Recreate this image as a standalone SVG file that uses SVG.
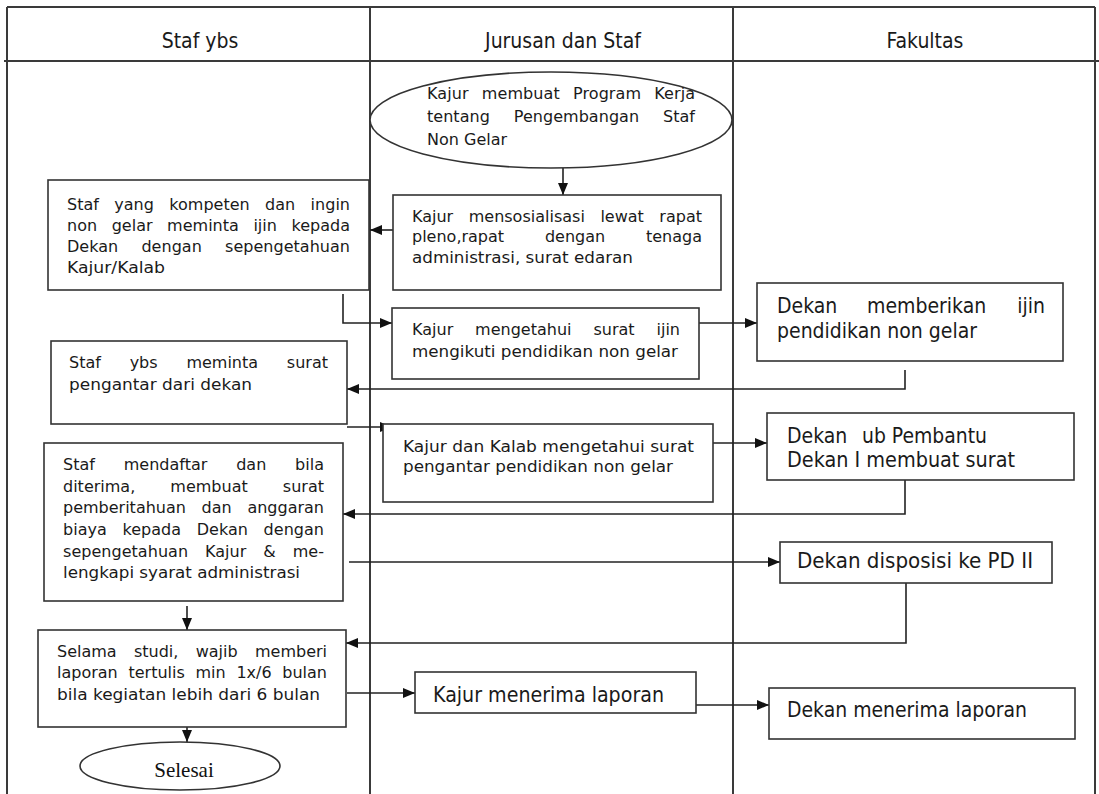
<svg xmlns="http://www.w3.org/2000/svg" width="1099" height="794" viewBox="0 0 1099 794">
<defs>
<style>
.lane{stroke:#3a3a3a;stroke-width:2;fill:none}
.box{fill:#fff;stroke:#333;stroke-width:1.6}
.con{fill:none;stroke:#222;stroke-width:1.6}
.s{font-family:"DejaVu Sans",Verdana,sans-serif;font-size:16px;fill:#1a1a1a}
.L{font-family:"DejaVu Sans Condensed","DejaVu Sans",sans-serif;font-stretch:condensed;font-size:21px;fill:#1a1a1a}
.h{font-family:"DejaVu Sans Condensed","DejaVu Sans",sans-serif;font-stretch:condensed;font-size:21px;fill:#1a1a1a;text-anchor:middle}
.serif{font-family:"Liberation Serif","Times New Roman",serif;font-size:21px;fill:#111;text-anchor:middle}
</style>
<marker id="ah" viewBox="0 0 12 10" refX="12" refY="5" markerWidth="12" markerHeight="10" markerUnits="userSpaceOnUse" orient="auto">
<path d="M0,0 L12,5 L0,10 z" fill="#111"/>
</marker>
</defs>
<rect width="1099" height="794" fill="#fff"/>

<g id="lanes">
<line class="lane" x1="7" y1="7" x2="1095" y2="7"/>
<line class="lane" x1="4" y1="61" x2="1099" y2="61"/>
<line class="lane" x1="7" y1="7" x2="7" y2="794"/>
<line class="lane" x1="370" y1="7" x2="370" y2="794"/>
<line class="lane" x1="733" y1="7" x2="733" y2="794"/>
<line class="lane" x1="1095" y1="7" x2="1095" y2="794"/>
<text class="h" x="200" y="48">Staf ybs</text>
<text class="h" x="563" y="48">Jurusan dan Staf</text>
<text class="h" x="925" y="48">Fakultas</text>
</g>

<g id="connectors">
<path class="con" marker-end="url(#ah)" d="M563,168 V195"/>
<path class="con" marker-end="url(#ah)" d="M393,230 H370"/>
<path class="con" marker-end="url(#ah)" d="M343,294 V323 H392"/>
<path class="con" marker-end="url(#ah)" d="M699,323 H757"/>
<path class="con" marker-end="url(#ah)" d="M905,370 V389 H347"/>
<path class="con" marker-end="url(#ah)" d="M347,427 H392"/>
<path class="con" marker-end="url(#ah)" d="M699,443 H767"/>
<path class="con" marker-end="url(#ah)" d="M905,480 V514 H343"/>
<path class="con" marker-end="url(#ah)" d="M349,562 H780"/>
<path class="con" marker-end="url(#ah)" d="M906,583 V643 H346"/>
<path class="con" marker-end="url(#ah)" d="M187,606 V630"/>
<path class="con" marker-end="url(#ah)" d="M347,693 H415"/>
<path class="con" marker-end="url(#ah)" d="M696,705 H769"/>
<path class="con" marker-end="url(#ah)" d="M187,727 V742"/>
</g>

<g id="start">
<ellipse class="box" cx="551" cy="120" rx="181" ry="48"/>
<text class="s" x="427" y="99" textLength="268" lengthAdjust="spacing" style="word-spacing:8px">Kajur membuat Program Kerja</text>
<text class="s" x="427" y="122" textLength="268" lengthAdjust="spacing" style="word-spacing:18.8px">tentang Pengembangan Staf</text>
<text class="s" x="427" y="145">Non Gelar</text>
</g>

<g id="sosialisasi">
<rect class="box" x="393" y="195" width="328" height="95"/>
<text class="s" x="412" y="222" textLength="290" lengthAdjust="spacing" style="word-spacing:10.4px">Kajur mensosialisasi lewat rapat</text>
<text class="s" x="412" y="242" textLength="290" lengthAdjust="spacing" style="word-spacing:35.7px">pleno,rapat dengan tenaga</text>
<text class="s" x="412" y="263" textLength="221" lengthAdjust="spacingAndGlyphs">administrasi, surat edaran</text>
</g>

<g id="staf-ijin">
<rect class="box" x="48" y="180" width="321" height="110"/>
<text class="s" x="67" y="210" textLength="283" lengthAdjust="spacing" style="word-spacing:10.2px">Staf yang kompeten dan ingin</text>
<text class="s" x="67" y="231" textLength="283" lengthAdjust="spacing" style="word-spacing:9.4px">non gelar meminta ijin kepada</text>
<text class="s" x="67" y="252" textLength="283" lengthAdjust="spacing" style="word-spacing:18.1px">Dekan dengan sepengetahuan</text>
<text class="s" x="67" y="273" textLength="98" lengthAdjust="spacingAndGlyphs">Kajur/Kalab</text>
</g>

<g id="kajur-ijin">
<rect class="box" x="392" y="308" width="307" height="71"/>
<text class="s" x="412" y="335" textLength="268" lengthAdjust="spacing" style="word-spacing:16.8px">Kajur mengetahui surat ijin</text>
<text class="s" x="412" y="357" textLength="266" lengthAdjust="spacingAndGlyphs">mengikuti pendidikan non gelar</text>
</g>

<g id="dekan-ijin">
<rect class="box" x="757" y="283" width="306" height="78"/>
<text class="L" x="777" y="313">Dekan</text>
<text class="L" x="867" y="313">memberikan</text>
<text class="L" x="1045" y="313" text-anchor="end">ijin</text>
<text class="L" x="777" y="338" textLength="200" lengthAdjust="spacingAndGlyphs">pendidikan non gelar</text>
</g>

<g id="staf-pengantar">
<rect class="box" x="51" y="341" width="296" height="83"/>
<text class="s" x="69" y="368" textLength="259" lengthAdjust="spacing" style="word-spacing:23.7px">Staf ybs meminta surat</text>
<text class="s" x="69" y="390" textLength="183" lengthAdjust="spacingAndGlyphs">pengantar dari dekan</text>
</g>

<g id="kajur-pengantar">
<rect class="box" x="383" y="424" width="330" height="78"/>
<text class="s" x="403" y="452" textLength="291" lengthAdjust="spacingAndGlyphs">Kajur dan Kalab mengetahui surat</text>
<text class="s" x="403" y="472" textLength="270" lengthAdjust="spacingAndGlyphs">pengantar pendidikan non gelar</text>
</g>

<g id="dekan-surat">
<rect class="box" x="767" y="413" width="307" height="67"/>
<text class="L" x="787" y="443">Dekan</text>
<text class="L" x="862" y="443" textLength="125" lengthAdjust="spacingAndGlyphs">ub Pembantu</text>
<text class="L" x="787" y="467" textLength="228" lengthAdjust="spacingAndGlyphs">Dekan I membuat surat</text>
</g>

<g id="staf-daftar">
<rect class="box" x="44" y="443" width="299" height="158"/>
<text class="s" x="63" y="470" textLength="261" lengthAdjust="spacing" style="word-spacing:23.7px">Staf mendaftar dan bila</text>
<text class="s" x="63" y="492" textLength="261" lengthAdjust="spacing" style="word-spacing:30px">diterima, membuat surat</text>
<text class="s" x="63" y="513" textLength="261" lengthAdjust="spacing" style="word-spacing:10.6px">pemberitahuan dan anggaran</text>
<text class="s" x="63" y="535" textLength="261" lengthAdjust="spacing" style="word-spacing:10.5px">biaya kepada Dekan dengan</text>
<text class="s" x="63" y="557" textLength="261" lengthAdjust="spacing" style="word-spacing:11.8px">sepengetahuan Kajur &amp; me-</text>
<text class="s" x="63" y="578" textLength="237" lengthAdjust="spacingAndGlyphs">lengkapi syarat administrasi</text>
</g>

<g id="dekan-disposisi">
<rect class="box" x="780" y="542" width="272" height="41"/>
<text class="L" x="797" y="568" textLength="236" lengthAdjust="spacingAndGlyphs">Dekan disposisi ke PD II</text>
</g>

<g id="staf-laporan">
<rect class="box" x="38" y="630" width="308" height="97"/>
<text class="s" x="57" y="657" textLength="270" lengthAdjust="spacing" style="word-spacing:12.2px">Selama studi, wajib memberi</text>
<text class="s" x="57" y="678" textLength="270" lengthAdjust="spacing" style="word-spacing:5.6px">laporan tertulis min 1x/6 bulan</text>
<text class="s" x="57" y="700" textLength="263" lengthAdjust="spacingAndGlyphs">bila kegiatan lebih dari 6 bulan</text>
</g>

<g id="kajur-laporan">
<rect class="box" x="415" y="672" width="281" height="41"/>
<text class="L" x="433" y="702" textLength="231" lengthAdjust="spacingAndGlyphs">Kajur menerima laporan</text>
</g>

<g id="dekan-laporan">
<rect class="box" x="769" y="688" width="306" height="51"/>
<text class="L" x="787" y="717" textLength="240" lengthAdjust="spacingAndGlyphs">Dekan menerima laporan</text>
</g>

<g id="selesai">
<ellipse class="box" cx="180" cy="766" rx="100" ry="24"/>
<text class="serif" x="184" y="777">Selesai</text>
</g>
</svg>
